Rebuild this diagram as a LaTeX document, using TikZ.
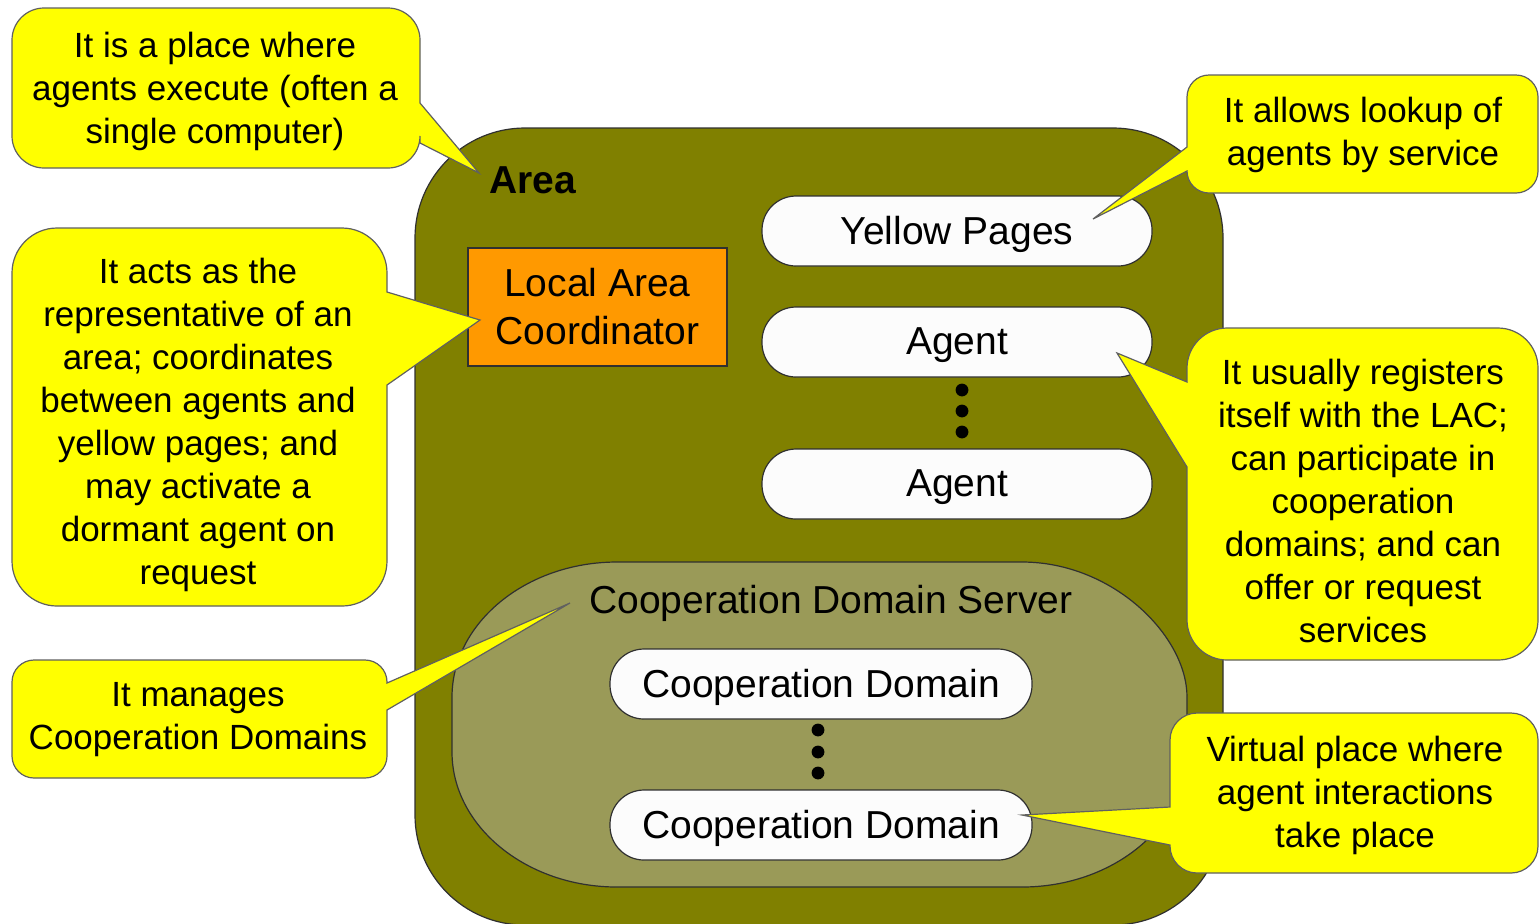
\documentclass[tikz,border=0pt]{standalone}
\usepackage{fontspec}
\setmainfont{Liberation Sans}

\definecolor{areaolive}{HTML}{808000}
\definecolor{cdsolive}{HTML}{9A9A58}
\definecolor{lacorange}{HTML}{FF9900}
\definecolor{noteyellow}{HTML}{FFFF00}
\definecolor{edgegray}{HTML}{303030}
\definecolor{noteedge}{HTML}{606060}
\definecolor{pillwhite}{HTML}{FCFCFC}

\newcommand{\notefont}{\fontsize{17.5pt}{21.5pt}\selectfont}
\newcommand{\bigfont}{\fontsize{19.5pt}{24pt}\selectfont}

% Rounded callout whose wedge leaves the right edge between y=#6 and y=#7
% box (#1,#2)-(#3,#4), corner radius #5, wedge tip at coordinate #8
\newcommand{\noteR}[8]{%
  \filldraw[note] (#1+#5,#2) -- (#3-#5,#2)
    .. controls (#3-0.45*#5,#2) and (#3,#2+0.45*#5) .. (#3,#2+#5)
    -- (#3,#6) -- (#8) -- (#3,#7) -- (#3,#4-#5)
    .. controls (#3,#4-0.45*#5) and (#3-0.45*#5,#4) .. (#3-#5,#4)
    -- (#1+#5,#4)
    .. controls (#1+0.45*#5,#4) and (#1,#4-0.45*#5) .. (#1,#4-#5)
    -- (#1,#2+#5)
    .. controls (#1,#2+0.45*#5) and (#1+0.45*#5,#2) .. (#1+#5,#2) -- cycle;}
% Same, with the wedge leaving the left edge
\newcommand{\noteL}[8]{%
  \filldraw[note] (#1+#5,#2) -- (#3-#5,#2)
    .. controls (#3-0.45*#5,#2) and (#3,#2+0.45*#5) .. (#3,#2+#5)
    -- (#3,#4-#5)
    .. controls (#3,#4-0.45*#5) and (#3-0.45*#5,#4) .. (#3-#5,#4)
    -- (#1+#5,#4)
    .. controls (#1+0.45*#5,#4) and (#1,#4-0.45*#5) .. (#1,#4-#5)
    -- (#1,#7) -- (#8) -- (#1,#6) -- (#1,#2+#5)
    .. controls (#1,#2+0.45*#5) and (#1+0.45*#5,#2) .. (#1+#5,#2) -- cycle;}

\begin{document}
\begin{tikzpicture}[x=0.5pt,y=-0.5pt,
  areabox/.style={draw=edgegray, line width=0.6pt, fill=areaolive,
    rounded corners=55pt, inner sep=0pt},
  cdsbox/.style={draw=edgegray, line width=0.6pt, fill=cdsolive},
  lacbox/.style={draw=edgegray, line width=0.6pt, fill=lacorange,
    align=center, font=\bigfont, inner sep=0pt, text depth=0.5pt},
  pill/.style={draw=edgegray, line width=0.6pt, fill=pillwhite,
    rounded corners=17pt, minimum height=35pt, inner sep=0pt, font=\bigfont,
    text depth=0.5pt},
  bigtext/.style={font=\bigfont, inner sep=0pt, yshift=-1.5pt},
  note/.style={draw=noteedge, line width=0.6pt, fill=noteyellow, line join=miter},
  notetext/.style={align=center, font=\notefont, inner sep=0pt, yshift=-1.5pt},
  dot/.style={fill=black}]

\useasboundingbox (0,0) rectangle (1540,923);
\clip (0,0) rectangle (1540,923);
\fill[white] (0,0) rectangle (1540,923);

% the area
\node[areabox, minimum width=404pt, minimum height=398.5pt] (area) at (819,526.5) {};
\node[bigtext, font=\bigfont\bfseries, anchor=west] (arealabel) at (489,177) {Area};

% local area coordinator
\node[lacbox, minimum width=129.5pt, minimum height=59pt] (lac) at (597.5,307)
  {Local Area\\Coordinator};

% yellow pages and agents
\node[pill, minimum width=195pt] (yp) at (957,231) {Yellow Pages};
\node[pill, minimum width=195pt] (agent1) at (957,342) {Agent};
\node[pill, minimum width=195pt] (agent2) at (957,484) {Agent};
\foreach \yy in {390,411,432} \fill[dot] (962,\yy) circle (3.2pt);

% cooperation domain server
\filldraw[cdsbox] (617,562) -- (1022,562)
  .. controls (1113,562) and (1187,636) .. (1187,697)
  -- (1187,752)
  .. controls (1187,826) and (1113,887) .. (1022,887)
  -- (617,887)
  .. controls (526,887) and (452,826) .. (452,752)
  -- (452,697)
  .. controls (452,623) and (526,562) .. (617,562) -- cycle;
\node[bigtext] (cdslabel) at (831,600) {Cooperation Domain Server};
\node[pill, minimum width=211pt] (cd1) at (821,684) {Cooperation Domain};
\node[pill, minimum width=211pt] (cd2) at (821,825) {Cooperation Domain};
\foreach \yy in {730,752,773} \fill[dot] (818,\yy) circle (3.2pt);

% wedge tips
\coordinate (tipA) at (479,173);
\coordinate (tipL) at (480,320);
\coordinate (tipS) at (570,603);
\coordinate (tipY) at (1093,219);
\coordinate (tipG) at (1117,353);
\coordinate (tipC) at (1022,815);

% explanatory callouts
\noteR{12}{8}{420}{168}{32}{103}{143}{tipA}
\node[notetext] (nArea) at (215,88)
  {It is a place where\\agents execute (often a\\single computer)};

\noteR{12}{228}{387}{606}{45}{292}{385}{tipL}
\node[notetext] (nLac) at (198,422)
  {It acts as the\\representative of an\\area; coordinates\\between agents and\\yellow pages; and\\may activate a\\dormant agent on\\request};

\noteR{12}{660}{387}{778}{22}{683}{710}{tipS}
\node[notetext] (nCds) at (198,717) {It manages\\Cooperation Domains};

\noteL{1187}{75}{1538}{193}{22}{147}{171}{tipY}
\node[notetext] (nYp) at (1363,132) {It allows lookup of\\agents by service};

\noteL{1187}{328}{1538}{660}{40}{382}{467}{tipG}
\node[notetext] (nAgent) at (1363,498)
  {It usually registers\\itself with the LAC;\\can participate in\\cooperation\\domains; and can\\offer or request\\services};

\noteL{1170}{713}{1538}{873}{27}{807}{845}{tipC}
\node[notetext] (nCd) at (1355,792)
  {Virtual place where\\agent interactions\\take place};
\end{tikzpicture}
\end{document}
